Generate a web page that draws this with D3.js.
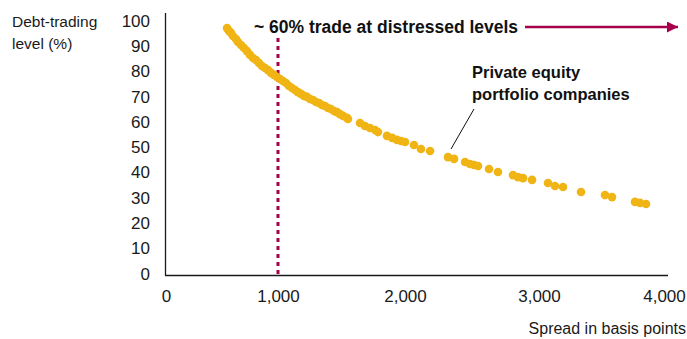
<!DOCTYPE html>
<html>
<head>
<meta charset="utf-8">
<script src="https://cdn.jsdelivr.net/npm/d3@7/dist/d3.min.js"></script>
<style>
  html, body { margin: 0; padding: 0; background: #fff; }
  svg { display: block; font-family: "Liberation Sans", Arial, sans-serif; }
</style>
</head>
<body>
<svg id="chart" width="687" height="339"></svg>
<script>
// Spread (bp) and debt-trading level (%) for each portfolio company
const spreadBp = [
  545, 562, 580, 598, 625, 643, 670, 696, 723, 750, 777, 804, 830, 857, 884, 911, 938, 964, 991,
  1016, 1039, 1063, 1087, 1110, 1134, 1157, 1181, 1205, 1228, 1252, 1276, 1299, 1323, 1346, 1370,
  1394, 1417, 1441, 1465, 1488, 1512, 1543, 1551,
  1646, 1685, 1724, 1764, 1787, 1858, 1898, 1937, 1969, 2000, 2067, 2119, 2187,
  2321, 2366, 2448, 2485, 2515, 2545, 2627, 2694, 2806, 2843, 2881, 2948,
  3072, 3128, 3192, 3336, 3528, 3584, 3768, 3808, 3856
];
const tradingLevel = [
  96.8, 95.7, 94.9, 93.7, 92.5, 91.3, 90.1, 88.9, 87.7, 86.2, 85.0, 84.2, 83.0, 81.8, 81.0, 80.2, 79.1, 78.3, 77.5,
  76.7, 75.9, 75.1, 73.9, 73.1, 72.3, 71.5, 70.8, 70.0, 69.6, 68.8, 68.4, 67.6, 67.2, 66.4, 66.0,
  65.2, 64.8, 64.0, 63.6, 62.8, 62.1, 61.3, 60.9,
  59.3, 58.1, 57.3, 56.5, 55.7, 54.2, 53.4, 52.6, 52.2, 51.8, 50.6, 49.0, 48.2,
  45.8, 45.1, 43.9, 43.1, 42.7, 42.3, 41.1, 39.9, 38.7, 37.9, 37.5, 36.8,
  35.6, 34.4, 34.0, 32.0, 30.8, 30.0, 28.1, 27.7, 27.3
];
const xTicks = [0, 1000, 2000, 3000, 4000];
const yTicks = [0, 10, 20, 30, 40, 50, 60, 70, 80, 90, 100];
const distressThreshold = 1000;

const points = spreadBp.map((s, i) => ({ spread: s, level: tradingLevel[i] }));

const svg = d3.select("#chart");
const gold = "#F0B414";
const crimson = "#A6004C";

const x = d3.scaleLinear()
  .domain([0, 1000, 2000, 3000, 4000])
  .range([166, 278, 405, 539, 664]);
const y = d3.scaleLinear().domain([0, 100]).range([273, 20]);

// Axis lines
svg.append("line")
  .attr("x1", 165.5).attr("x2", 165.5).attr("y1", 13).attr("y2", 275.5)
  .attr("stroke", "#1a1a1a").attr("stroke-width", 1.3);
svg.append("line")
  .attr("x1", 165).attr("x2", 668).attr("y1", 275.5).attr("y2", 275.5)
  .attr("stroke", "#1a1a1a").attr("stroke-width", 1.3);

// Y axis tick labels
const yAxis = d3.axisLeft(y).tickValues(yTicks).tickSize(0).tickPadding(0);
const gy = svg.append("g").attr("transform", "translate(150,0)").call(yAxis);
gy.select(".domain").remove();
gy.selectAll("text")
  .attr("font-size", 17).attr("font-family", "Liberation Sans, Arial, sans-serif")
  .attr("fill", "#1a1a1a").attr("dy", "0.36em");

// X axis tick labels
const xAxis = d3.axisBottom(x).tickValues(xTicks).tickSize(0).tickPadding(0)
  .tickFormat(d3.format(","));
const gx = svg.append("g").attr("transform", "translate(0,302)").call(xAxis);
gx.select(".domain").remove();
gx.selectAll("text")
  .attr("font-size", 17).attr("font-family", "Liberation Sans, Arial, sans-serif")
  .attr("fill", "#1a1a1a").attr("dy", 0).attr("y", 0);

// Axis titles
const yTitle = svg.append("text")
  .attr("x", 12).attr("font-size", 15.5).attr("fill", "#1a1a1a");
yTitle.append("tspan").attr("x", 12).attr("y", 27).text("Debt-trading");
yTitle.append("tspan").attr("x", 12).attr("y", 49).text("level (%)");

svg.append("text")
  .attr("x", 686).attr("y", 334).attr("text-anchor", "end")
  .attr("font-size", 16).attr("fill", "#1a1a1a")
  .text("Spread in basis points");

// Distress threshold
svg.append("line")
  .attr("x1", x(distressThreshold)).attr("x2", x(distressThreshold))
  .attr("y1", 38).attr("y2", 275)
  .attr("stroke", crimson).attr("stroke-width", 3)
  .attr("stroke-dasharray", "4,4");

// Scatter points
svg.append("g").selectAll("circle")
  .data(points)
  .join("circle")
  .attr("cx", d => x(d.spread))
  .attr("cy", d => y(d.level))
  .attr("r", 4.3)
  .attr("fill", gold);

// Headline with arrow
svg.append("text")
  .attr("x", 254).attr("y", 33)
  .attr("font-size", 17.5).attr("font-weight", "bold").attr("fill", "#111")
  .text("~ 60% trade at distressed levels");

svg.append("defs").append("marker")
  .attr("id", "arrowhead")
  .attr("viewBox", "0 0 10 10")
  .attr("refX", 10).attr("refY", 5)
  .attr("markerWidth", 5.2).attr("markerHeight", 4.4)
  .attr("markerUnits", "strokeWidth")
  .attr("orient", "auto")
  .append("path").attr("d", "M0,0 L10,5 L0,10 Z").attr("fill", crimson);

svg.append("line")
  .attr("x1", 525).attr("x2", 678).attr("y1", 27).attr("y2", 27)
  .attr("stroke", crimson).attr("stroke-width", 2.5)
  .attr("marker-end", "url(#arrowhead)");

// Callout
const callout = svg.append("text")
  .attr("font-size", 16.5).attr("font-weight", "bold").attr("fill", "#111");
callout.append("tspan").attr("x", 472).attr("y", 78).text("Private equity");
callout.append("tspan").attr("x", 472).attr("y", 100).text("portfolio companies");

svg.append("line")
  .attr("x1", 474).attr("y1", 109).attr("x2", 451).attr("y2", 149)
  .attr("stroke", "#111").attr("stroke-width", 1);
</script>
</body>
</html>
